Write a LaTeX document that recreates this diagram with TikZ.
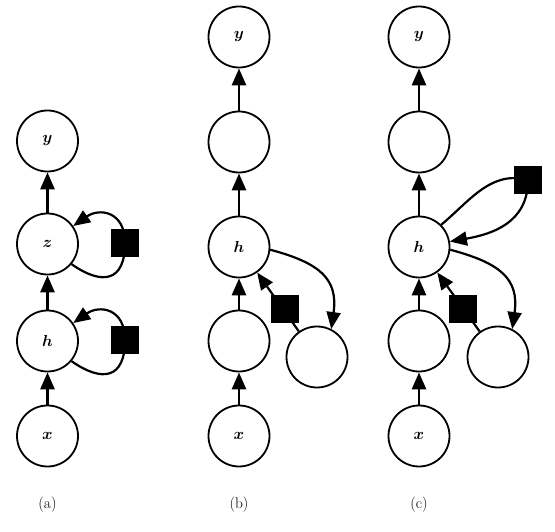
\documentclass[tikz,border=0pt]{standalone}
\usepackage{fix-cm}
\usepackage{bm}
\usetikzlibrary{arrows.meta,backgrounds}
\begin{document}
\begin{tikzpicture}[x=1pt,y=1pt,
  unitnode/.style={circle,draw,line width=1.8pt,minimum size=61pt,inner sep=0pt,font=\fontsize{16}{18}\selectfont},
  blknode/.style={rectangle,fill=black,minimum size=28.5pt,inner sep=0pt},
  uparrow/.style={line width=2.8pt,-{Triangle[length=17pt,width=14pt]}},
  curarrow/.style={line width=2.2pt,-{Triangle[length=17pt,width=14pt]}},
  plainline/.style={line width=2.2pt},
  captext/.style={font=\fontsize{15.5}{18}\selectfont}]
\useasboundingbox (0,0) rectangle (555,531);
% panel (a)
\node[unitnode] (ya) at (47.5,390) {$\bm{y}$};
\node[unitnode] (za) at (47.5,287) {$\bm{z}$};
\node[unitnode] (ha) at (47.5,190) {$\bm{h}$};
\node[unitnode] (xa) at (47.5,95) {$\bm{x}$};
\node[blknode] (sqa1) at (125,288) {};
\node[blknode] (sqa2) at (125,191) {};
\node[captext] (la) at (47.5,26) {(a)};
% panel (b)
\node[unitnode] (yb) at (239,494) {$\bm{y}$};
\node[unitnode] (ob1) at (239,389) {};
\node[unitnode] (hb) at (239,284) {$\bm{h}$};
\node[unitnode] (ob2) at (239,190) {};
\node[unitnode] (xb) at (239,95) {$\bm{x}$};
\node[unitnode] (sb) at (317,174) {};
\node[blknode] (sqb) at (285,222) {};
\node[captext] (lb) at (239,26) {(b)};
% panel (c)
\node[unitnode] (yc) at (419,494) {$\bm{y}$};
\node[unitnode] (oc1) at (419,389) {};
\node[unitnode] (hc) at (419,284) {$\bm{h}$};
\node[unitnode] (oc2) at (419,190) {};
\node[unitnode] (xc) at (419,95) {$\bm{x}$};
\node[unitnode] (sc) at (498,174) {};
\node[blknode] (sqc1) at (463,222) {};
\node[blknode] (sqc2) at (528,351) {};
\node[captext] (lc) at (419,26) {(c)};
\begin{scope}[on background layer]
% (a)
\draw[uparrow] (xa) -- (ha);
\draw[uparrow] (ha) -- (za);
\draw[uparrow] (za) -- (ya);
\draw[plainline] (za.-40) to[out=-35,in=-90,looseness=1.7] (sqa1.center);
\draw[curarrow] (sqa1.center) to[out=90,in=35,looseness=1.5] (za.35);
\draw[plainline] (ha.-40) to[out=-35,in=-90,looseness=1.7] (sqa2.center);
\draw[curarrow] (sqa2.center) to[out=90,in=35,looseness=1.5] (ha.35);
% (b)
\draw[uparrow] (xb) -- (ob2);
\draw[uparrow] (ob2) -- (hb);
\draw[uparrow] (hb) -- (ob1);
\draw[uparrow] (ob1) -- (yb);
\draw[curarrow] (sb) -- (hb);
\draw[curarrow] (hb.-5) to[out=-15,in=82,looseness=1.3] (sb.63);
% (c)
\draw[uparrow] (xc) -- (oc2);
\draw[uparrow] (oc2) -- (hc);
\draw[uparrow] (hc) -- (oc1);
\draw[uparrow] (oc1) -- (yc);
\draw[curarrow] (sc) -- (hc);
\draw[curarrow] (hc.-5) to[out=-15,in=82,looseness=1.3] (sc.63);
\draw[plainline] (hc.45) to[out=40,in=165] (sqc2.center);
\draw[curarrow] (sqc2.center) to[out=-90,in=10,looseness=1.1] (hc.10);
\end{scope}
\end{tikzpicture}
\end{document}
